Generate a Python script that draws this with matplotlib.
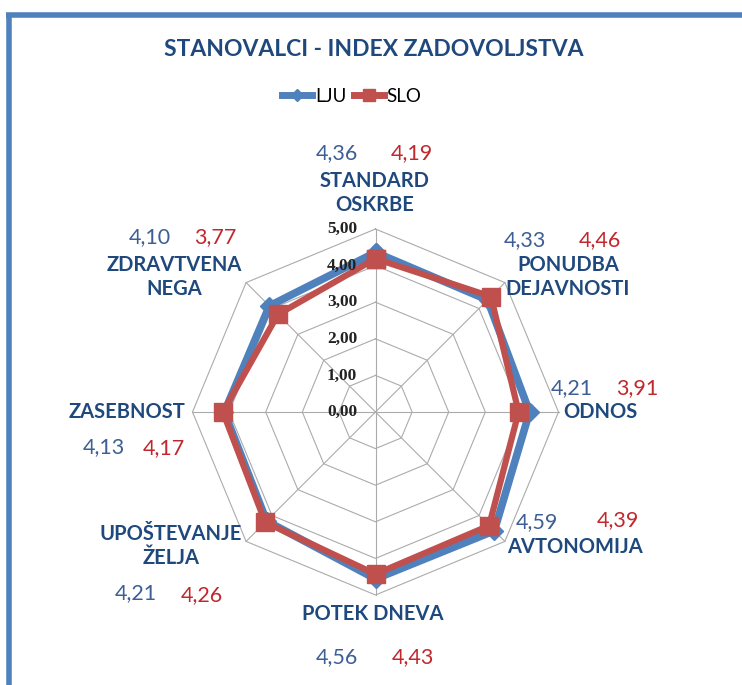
import numpy as np
import matplotlib
matplotlib.use("Agg")
import matplotlib.pyplot as plt
from matplotlib.lines import Line2D

kategorije = ["STANDARD\nOSKRBE", "PONUDBA\nDEJAVNOSTI", "ODNOS", "AVTONOMIJA",
              "POTEK DNEVA", "UPOŠTEVANJE\nŽELJA", "ZASEBNOST", "ZDRAVTVENA\nNEGA"]
lju = [4.36, 4.33, 4.21, 4.59, 4.56, 4.21, 4.13, 4.10]
slo = [4.19, 4.46, 3.91, 4.39, 4.43, 4.26, 4.17, 3.77]
ticks = [0, 1, 2, 3, 4, 5]

W, H = 742, 685
modra = "#4F81BD"
rdeca = "#C0504D"
temno = "#1F497D"
st_modra = "#3D5F95"
st_rdeca = "#C0282D"
font = "Lato"

fig = plt.figure(figsize=(W / 100, H / 100), dpi=100)

def px(x, y):
    return x / W, 1 - y / H

# okvir (samo zgornja in leva stranica sta vidni)
fig.add_artist(Line2D([6 / W, 1], [1 - 14.5 / H] * 2, color=modra, lw=4, solid_capstyle="butt"))
fig.add_artist(Line2D([8.5 / W] * 2, [1 - 15 / H, 0], color=modra, lw=4, solid_capstyle="butt"))

# os za radar, sredisce (375.5, 412), 36.6 px na enoto
cx, cy, k = 375.5, 412, 36.6
a = 5.5
ax = fig.add_axes([(cx - a * k) / W, (H - cy - a * k) / H, 2 * a * k / W, 2 * a * k / H])
ax.set_xlim(-a, a)
ax.set_ylim(-a, a)
ax.set_aspect("equal")
ax.axis("off")

n = len(kategorije)
kot = np.arange(n) * 2 * np.pi / n
sx, sy = np.sin(kot), np.cos(kot)

for t in ticks[1:]:
    ax.plot(np.append(sx, sx[0]) * t, np.append(sy, sy[0]) * t, color="#ABABAB", lw=0.8, zorder=1)
for i in range(n):
    ax.plot([0, sx[i] * ticks[-1]], [0, sy[i] * ticks[-1]], color="#ABABAB", lw=0.8, zorder=1)

for t in ticks:
    ax.text(-0.5, t, f"{t:.2f}".replace(".", ","), ha="right", va="center",
            family="Liberation Serif", fontweight="bold", fontsize=12.5, color="#222222", zorder=6)

r1 = np.array(lju + lju[:1])
r2 = np.array(slo + slo[:1])
ax.plot(r1 * np.append(sx, sx[0]), r1 * np.append(sy, sy[0]), color=modra, lw=5.5,
        marker="D", ms=9, zorder=3, solid_joinstyle="miter")
ax.plot(r2 * np.append(sx, sx[0]), r2 * np.append(sy, sy[0]), color=rdeca, lw=4.5,
        marker="s", ms=13, zorder=4, solid_joinstyle="miter")

# oznake kategorij in vrednosti
poz_kat = [(375, 193), (568, 277), (600, 412), (575, 547), (373, 614), (171, 546), (127, 412), (174, 277)]
poz_lju = [(337, 153), (525, 240), (572, 388), (537, 522), (337, 657), (136, 593), (104, 447), (150, 237)]
poz_slo = [(412, 153), (600, 240), (637, 388), (618, 520), (413, 657), (202, 595), (164, 448), (215, 237)]

for i in range(n):
    fig.text(*px(*poz_kat[i]), kategorije[i], ha="center", va="center", family=font,
             fontweight="bold", fontsize=14.5, color=temno, linespacing=1.3)
    fig.text(*px(*poz_lju[i]), f"{lju[i]:.2f}".replace(".", ","), ha="center", va="center",
             family=font, fontsize=15.5, color=st_modra)
    fig.text(*px(*poz_slo[i]), f"{slo[i]:.2f}".replace(".", ","), ha="center", va="center",
             family=font, fontsize=15.5, color=st_rdeca)

fig.text(*px(374, 50), "STANOVALCI - INDEX ZADOVOLJSTVA", ha="center", va="center",
         family=font, fontweight="bold", fontsize=16.5, color=temno)

# legenda
h1 = Line2D([], [], color=modra, lw=5, marker="D", ms=6)
h2 = Line2D([], [], color=rdeca, lw=5, marker="s", ms=9)
fig.legend([h1, h2], ["LJU", "SLO"], loc="center", bbox_to_anchor=px(352, 96), ncol=2,
           frameon=False, handlelength=1.6, handletextpad=0.15, columnspacing=0.4,
           prop={"family": font, "size": 13.5})

fig.savefig("out.png", dpi=100, facecolor="white")
